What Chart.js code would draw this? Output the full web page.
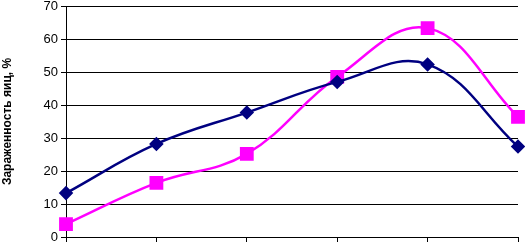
<!DOCTYPE html>
<html>
<head>
<meta charset="utf-8">
<script src="https://cdn.jsdelivr.net/npm/chart.js@4"></script>
<style>
  html, body { margin: 0; padding: 0; background: #fff; }
  #wrap { width: 525px; height: 242px; }
</style>
</head>
<body>
<div id="wrap"><canvas id="chart"></canvas></div>
<script>
// data
const categories = ['1', '2', '3', '4', '5', '6'];
const seriesBlue = [13.3, 28.2, 37.7, 47.0, 52.3, 27.4];
const seriesPink = [3.9, 16.4, 25.2, 48.5, 63.3, 36.4];
const yTicks = [0, 10, 20, 30, 40, 50, 60, 70];

const ctx = document.getElementById('chart').getContext('2d');
new Chart(ctx, {
    type: 'line',
    data: {
        labels: categories,
        datasets: [{
            data: seriesBlue,
            borderColor: '#000080',
            backgroundColor: '#000080',
            borderWidth: 2.5,
            pointStyle: 'rectRot',
            pointRadius: 5.5,
            pointHoverRadius: 5.5,
            tension: 0.4,
            clip: false
        }, {
            data: seriesPink,
            borderColor: '#ff00ff',
            backgroundColor: '#ff00ff',
            borderWidth: 2.5,
            pointStyle: 'rect',
            pointRadius: 8,
            pointHoverRadius: 8,
            tension: 0.4,
            clip: false
        }]
    },
    options: {
        responsive: true,
        maintainAspectRatio: false,
        animation: false,
        layout: { autoPadding: false, padding: { top: 6, right: 7, left: 0, bottom: 0 } },
        plugins: {
            legend: { display: false },
            tooltip: { enabled: false }
        },
        scales: {
            x: {
                offset: false,
                border: { color: '#000', width: 1 },
                grid: { drawOnChartArea: false, drawTicks: true, tickLength: 5, color: '#000' },
                ticks: { display: false },
                afterFit: (scale) => { scale.height = 5; scale.paddingLeft = 0; scale.paddingRight = 0; }
            },
            y: {
                min: 0,
                max: 70,
                afterBuildTicks: (scale) => { scale.ticks = yTicks.map(v => ({ value: v })); },
                afterFit: (scale) => { scale.width = 66; scale.paddingTop = 0; scale.paddingBottom = 0; },
                border: { color: '#000', width: 1 },
                grid: { color: '#000', tickLength: 5, lineWidth: 1 },
                ticks: {
                    color: '#000',
                    padding: 3,
                    font: { family: 'Liberation Sans, Arial', size: 13 }
                },
                title: {
                    display: true,
                    text: 'Зараженность яиц, %',
                    color: '#000',
                    padding: { top: 0, bottom: 14 },
                    font: { family: 'Liberation Sans, Arial', size: 12, weight: 'bold' }
                }
            }
        }
    }
});
</script>
</body>
</html>
